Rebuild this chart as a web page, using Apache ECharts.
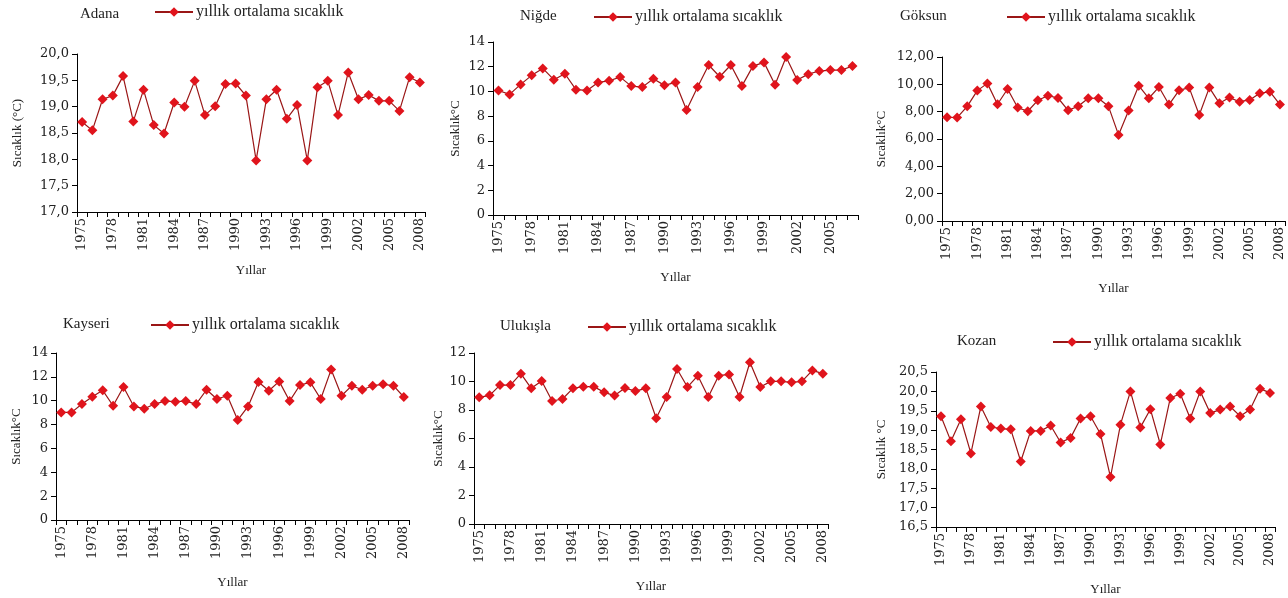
<!DOCTYPE html>
<html><head><meta charset="utf-8">
<script src="https://cdn.jsdelivr.net/npm/echarts@6/dist/echarts.min.js"></script>
<style>html,body{margin:0;padding:0;background:#fff}#c{width:1288px;height:598px}</style>
</head><body><div id="c"></div>
<script>
const years = ['1975','1976','1977','1978','1979','1980','1981','1982','1983','1984','1985','1986','1987','1988','1989','1990','1991','1992','1993','1994','1995','1996','1997','1998','1999','2000','2001','2002','2003','2004','2005','2006','2007','2008'];
const yearsNigde = ['1975','1976','1977','1978','1979','1980','1981','1982','1983','1984','1985','1986','1987','1988','1989','1990','1991','1992','1993','1994','1995','1996','1997','1998','1999','2000','2001','2002','2003','2004','2005','2006','2007'];
const stations = ['Adana','Niğde','Göksun','Kayseri','Ulukışla','Kozan'];
const yNames = ['Sıcaklık (°C)','Sıcaklık°C','Sıcaklık°C','Sıcaklık°C','Sıcaklık°C','Sıcaklık °C'];
const xName = 'Yıllar';
const seriesName = 'yıllık ortalama sıcaklık';
const adana = [18.71,18.55,19.14,19.21,19.58,18.72,19.32,18.65,18.49,19.08,19.00,19.49,18.84,19.01,19.43,19.44,19.21,17.98,19.14,19.32,18.77,19.03,17.98,19.37,19.49,18.84,19.65,19.14,19.22,19.11,19.11,18.92,19.56,19.46];
const nigde = [10.08,9.76,10.57,11.3,11.86,10.95,11.43,10.14,10.08,10.73,10.86,11.16,10.43,10.35,11.03,10.49,10.73,8.49,10.35,12.14,11.19,12.14,10.43,12.05,12.35,10.54,12.78,10.92,11.4,11.65,11.73,11.73,12.05];
const goksun = [7.59,7.57,8.39,9.54,10.07,8.54,9.66,8.3,8.03,8.83,9.17,9.0,8.1,8.39,8.98,8.98,8.39,6.3,8.08,9.9,8.98,9.8,8.52,9.56,9.76,7.76,9.76,8.61,9.03,8.73,8.86,9.34,9.46,8.52];
const kayseri = [9.02,9.02,9.72,10.34,10.87,9.58,11.15,9.52,9.33,9.72,9.97,9.92,9.97,9.72,10.92,10.14,10.42,8.38,9.52,11.57,10.84,11.62,9.97,11.32,11.54,10.14,12.61,10.42,11.26,10.92,11.26,11.37,11.26,10.31];
const ulukisla = [8.89,9.03,9.75,9.75,10.55,9.52,10.04,8.63,8.77,9.52,9.64,9.64,9.24,9.01,9.54,9.33,9.52,7.42,8.91,10.88,9.61,10.41,8.91,10.41,10.5,8.91,11.35,9.61,10.01,10.01,9.94,10.01,10.78,10.55];
const kozan = [19.36,18.71,19.28,18.4,19.61,19.08,19.04,19.02,18.19,18.98,18.98,19.12,18.68,18.8,19.3,19.36,18.9,17.79,19.14,20.0,19.07,19.54,18.63,19.83,19.94,19.3,20.0,19.44,19.53,19.61,19.36,19.53,20.07,19.96];
const yMin = [17, 0, 0, 0, 0, 16.5];
const yMax = [20, 14, 12, 14, 12, 20.5];
const yStep = [0.5, 2, 2, 2, 2, 0.5];
const yDecimals = [1, 0, 2, 0, 0, 1];

const values = [adana, nigde, goksun, kayseri, ulukisla, kozan];
const cats = [years, yearsNigde, years, years, years, years];

// layout
const grids = [
  {left:77, top:54, width:348, height:158},
  {left:493, top:42, width:365, height:173},
  {left:942, top:57, width:343, height:164},
  {left:56, top:353, width:353, height:167},
  {left:474, top:353, width:354, height:171},
  {left:936, top:372, width:339, height:155}
];
const titlePos = [[80,7],[520,9],[900,9],[63,317],[500,319],[957,334]];
const legendPos = [[154,4],[593,9],[1006,9],[150,317],[587,319],[1052,334]];
const yNameGap = [53, 31, 54, 33, 29, 48];
const xNameGap = [52, 56, 61, 56, 56, 56];

const serif = '"Liberation Serif","Times New Roman",serif';
const digitFont = '"DejaVu Serif",serif';
const txt = '#222';

const chart = echarts.init(document.getElementById('c'));
const option = {
  animation: false,
  backgroundColor: '#fff',
  title: stations.map((s,i)=>({text:s, left:titlePos[i][0], top:titlePos[i][1], padding:0,
    textStyle:{fontFamily:serif, fontSize:15, fontWeight:'normal', color:txt}})),
  legend: stations.map((s,i)=>({data:[seriesName], left:legendPos[i][0], top:legendPos[i][1], padding:0,
    itemWidth:38, itemHeight:12, itemGap:4,
    textStyle:{fontFamily:serif, fontSize:16, color:txt, padding:[0,0,0,-2]}})),
  grid: grids,
  xAxis: grids.map((g,i)=>({type:'category', gridIndex:i, data:cats[i], boundaryGap:true,
    name:xName, nameLocation:'middle', nameGap:xNameGap[i],
    nameTextStyle:{fontFamily:serif, fontSize:13, color:txt},
    axisLine:{lineStyle:{color:'#000', width:1}},
    axisTick:{show:true, interval:0, length:5, inside:false, lineStyle:{color:'#000'}},
    axisLabel:{interval:2, rotate:90, margin:6, fontFamily:digitFont, fontSize:13, color:txt},
    splitLine:{show:false}})),
  yAxis: grids.map((g,i)=>({type:'value', gridIndex:i, min:yMin[i], max:yMax[i], interval:yStep[i],
    name:yNames[i], nameLocation:'middle', nameGap:yNameGap[i], nameRotate:90,
    nameTextStyle:{fontFamily:serif, fontSize:13, color:txt},
    axisLine:{show:true, lineStyle:{color:'#000', width:1}},
    axisTick:{show:true, length:5, inside:false, lineStyle:{color:'#000'}},
    axisLabel:{margin:8, fontFamily:digitFont, fontSize:13, color:txt,
      formatter:(v)=>v.toFixed(yDecimals[i]).replace('.',',')},
    splitLine:{show:false}})),
  series: values.map((d,i)=>({type:'line', name:seriesName, xAxisIndex:i, yAxisIndex:i, data:d,
    symbol:'diamond', symbolSize:10, showSymbol:true, showAllSymbol:true,
    lineStyle:{color:'#9a1616', width:1.2},
    itemStyle:{color:'#e0141c'}}))
};
chart.setOption(option);
</script>
</body></html>
